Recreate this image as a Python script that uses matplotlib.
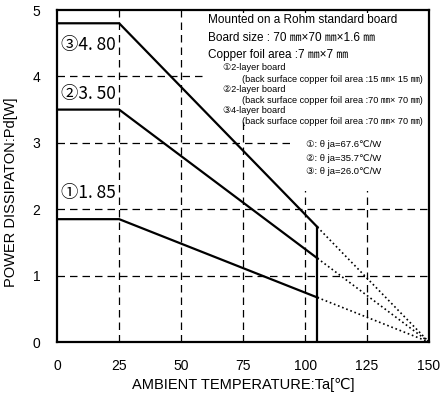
import matplotlib
matplotlib.use('Agg')
from matplotlib import pyplot as plt

# Derating curves (Ta [C] vs Pd [W])
ta_solid = [0, 25, 105]
pd_1 = [1.85, 1.85, 0.67]
pd_2 = [3.50, 3.50, 1.26]
pd_3 = [4.80, 4.80, 1.73]
ta_dot = [105, 150]
ta_cut = 105
labels = ['\u2460' + '1. 85', '\u2461' + '3. 50', '\u2462' + '4. 80']
label_y = [2.25, 3.74, 4.47]
xticks = [0, 25, 50, 75, 100, 125, 150]
yticks = [0, 1, 2, 3, 4, 5]

fam = ['Liberation Sans', 'DejaVu Sans', 'Noto Sans CJK JP']
mono = ['Noto Sans CJK JP', 'DejaVu Sans']
plt.rcParams['font.family'] = fam

fig = plt.figure(figsize=(4.4, 4.0), dpi=100)
ax = fig.add_axes([0.13, 0.145, 0.845, 0.83])

for v in xticks[1:-1]:
    ax.axvline(v, color='black', lw=0.9, ls=(0, (6, 4)), zorder=1)
for v in yticks[1:-1]:
    ax.axhline(v, color='black', lw=0.9, ls=(0, (6, 4)), zorder=1)

for pd in [pd_1, pd_2, pd_3]:
    ax.plot(ta_solid, pd, color='black', lw=1.6, zorder=5)
    ax.plot(ta_dot, [pd[-1], 0], color='black', lw=1.2, ls=':', zorder=5)
ax.plot([ta_cut, ta_cut], [0, pd_3[-1]], color='black', lw=1.6, zorder=5)

for lab, y in zip(labels, label_y):
    ax.text(1.5, y, lab, fontsize=12.5, family=mono, va='center', ha='left', zorder=4)

# white areas behind the notes hide the grid
ax.add_patch(plt.Rectangle((59.5, 3.34), 90, 1.62, facecolor='white', edgecolor='none', zorder=2))
ax.add_patch(plt.Rectangle((96, 2.27), 53.5, 1.1, facecolor='white', edgecolor='none', zorder=2))
ax.text(60.7, 4.85, 'Mounted on a Rohm standard board', fontsize=8.5, va='center', zorder=4)
ax.text(60.7, 4.58, 'Board size : 70 \u339c\u00d770 \u339c\u00d71.6 \u339c', fontsize=8.5, va='center', zorder=4)
ax.text(60.7, 4.32, 'Copper foil area :7 \u339c\u00d77 \u339c', fontsize=8.5, va='center', zorder=4)
small = [
    (67, 4.13, '\u24602-layer board'),
    (74.5, 3.96, '(back surface copper foil area :15 \u339c\u00d7 15 \u339c)'),
    (67, 3.81, '\u24612-layer board'),
    (74.5, 3.64, '(back surface copper foil area :70 \u339c\u00d7 70 \u339c)'),
    (67, 3.49, '\u24624-layer board'),
    (74.5, 3.32, '(back surface copper foil area :70 \u339c\u00d7 70 \u339c)'),
]
for x, y, s in small:
    ax.text(x, y, s, fontsize=6.6, va='center', zorder=4)
for i, s in enumerate(['\u2460: \u03b8 ja=67.6\u2103/W', '\u2461: \u03b8 ja=35.7\u2103/W', '\u2462: \u03b8 ja=26.0\u2103/W']):
    ax.text(100.5, 2.97 - i * 0.2, s, fontsize=6.8, va='center', zorder=4)

ax.set_xlim(0, 150)
ax.set_ylim(0, 5)
ax.set_xticks(xticks)
ax.set_yticks(yticks)
ax.tick_params(length=0, labelsize=10, pad=12)
for sp in ax.spines.values():
    sp.set_linewidth(1.6)
ax.set_xlabel('AMBIENT TEMPERATURE:Ta[\u2103]', fontsize=10.5, labelpad=4)
ax.set_ylabel('POWER DISSIPATON:Pd[W]', fontsize=10.5)
ax.yaxis.set_label_coords(-0.105, 0.45)

fig.savefig('out.png', dpi=100)
